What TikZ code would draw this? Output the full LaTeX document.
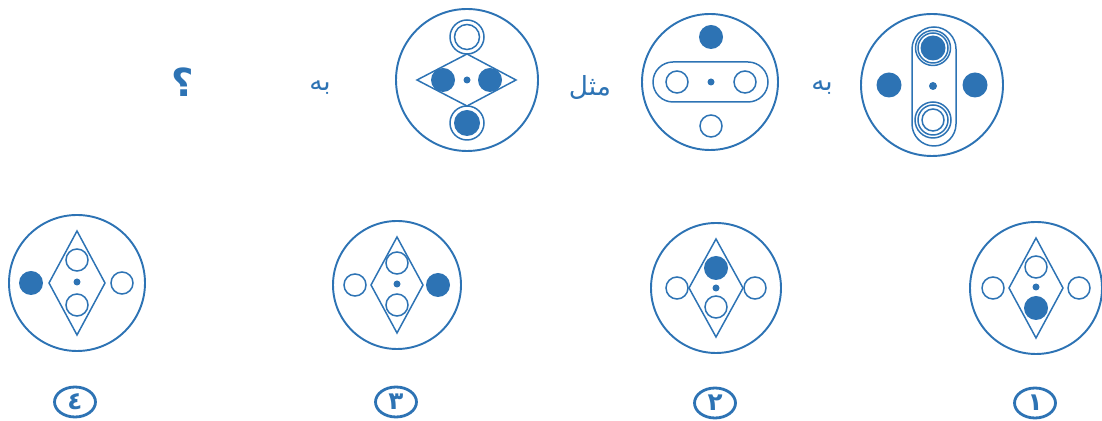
\documentclass[tikz,border=0pt]{standalone}
\usepackage{fontspec}
\usepackage{tikz}
\usetikzlibrary{shapes.geometric}
\TeXXeTstate=1
\newfontfamily\arabicfont[Script=Arabic]{DejaVu Sans}
\definecolor{quizblue}{RGB}{45, 115, 180}
\tikzset{
  frame/.style   = {draw=quizblue, line width=1.1pt},
  edge/.style    = {draw=quizblue, line width=0.85pt},
  hole/.style    = {draw=quizblue, line width=0.85pt, fill=white},
  blob/.style    = {fill=quizblue},
  word/.style    = {text=quizblue, inner sep=0pt, font=\arabicfont\fontsize{15}{17}\selectfont},
  tag/.style     = {ellipse, draw=quizblue, line width=1.6pt, minimum width=0.82cm, minimum height=0.6cm,
                    inner sep=0pt, text=quizblue, font=\arabicfont\bfseries\fontsize{14}{16}\selectfont},
}

\begin{document}
\begin{tikzpicture}[x=0.02cm, y=-0.02cm]
  \useasboundingbox (0,0) rectangle (1102,421);

  % ---- first row: pattern A ----
  \draw[frame] (932,85) circle (71);
  \draw[edge, rounded corners=0.44cm] (912,27) rectangle (956,146);
  \draw[edge] (933,48) circle (17.5) (933,48) circle (15);
  \fill[blob] (933,48) circle (12.5);
  \draw[edge] (933,120) circle (18) (933,120) circle (15) (933,120) circle (11);
  \fill[blob] (933,86) circle (4);
  \fill[blob] (889,85) circle (12.5) (975,85) circle (12.5);
  \node[word] (ba1) at (822,88) {\beginR به\endR};

  % ---- first row: pattern B ----
  \draw[frame] (710,82) circle (68);
  \fill[blob] (711,37) circle (12);
  \draw[edge, rounded corners=0.4cm] (653,62) rectangle (768,102);
  \draw[edge] (677,82) circle (11) (745,82) circle (11);
  \fill[blob] (711,82) circle (3.5);
  \draw[edge] (711,126) circle (11);
  \node[word] (mesl) at (590,88) {\beginR مثل\endR};

  % ---- first row: pattern C ----
  \draw[frame] (467,80) circle (71);
  \draw[edge] (417,80) -- (467,54) -- (516,80) -- (467,106) -- cycle;
  \fill[blob] (443,80) circle (12) (490,80) circle (12);
  \fill[blob] (467,80) circle (3.5);
  \draw[edge] (467,37) circle (17) (467,37) circle (12.5);
  \draw[edge] (467,123) circle (17);
  \fill[blob] (467,123) circle (13);
  \node[word] (ba2) at (320,88) {\beginR به\endR};
  \node[word, font=\arabicfont\bfseries\fontsize{22}{24}\selectfont] (qmark) at (183,82) {؟};

  % ---- second row: choices ----
  % choice 1
  \begin{scope}[shift={(1036,288)}]
    \draw[frame] (0,0) circle (66);
    \draw[edge] (0,-50) -- (27,0) -- (0,50) -- (-27,0) -- cycle;
    \draw[edge] (0,-21) circle (11) (-43,0) circle (11) (43,0) circle (11);
    \fill[blob] (0,-1) circle (3.5) (0,20) circle (12);
  \end{scope}
  \node[tag] (opt1) at (1035,403) {١};

  % choice 2
  \begin{scope}[shift={(716,288)}]
    \draw[frame] (0,0) circle (65);
    \draw[edge] (0,-49) -- (27,0) -- (0,49) -- (-27,0) -- cycle;
    \draw[edge] (0,19) circle (11) (-39,0) circle (11) (39,0) circle (11);
    \fill[blob] (0,0) circle (3.5) (0,-20) circle (12);
  \end{scope}
  \node[tag] (opt2) at (715,403) {٢};

  % choice 3
  \begin{scope}[shift={(397,285)}]
    \draw[frame] (0,0) circle (64);
    \draw[edge] (0,-48) -- (26,0) -- (0,48) -- (-26,0) -- cycle;
    \draw[edge] (0,-22) circle (11) (0,20) circle (11) (-42,0) circle (11);
    \fill[blob] (0,-1) circle (3.5) (41,0) circle (12);
  \end{scope}
  \node[tag] (opt3) at (396,402) {٣};

  % choice 4
  \begin{scope}[shift={(77,283)}]
    \draw[frame] (0,0) circle (68);
    \draw[edge] (0,-52) -- (28,0) -- (0,52) -- (-28,0) -- cycle;
    \draw[edge] (0,-23) circle (11) (0,22) circle (11) (45,0) circle (11);
    \fill[blob] (0,-1) circle (3.5) (-46,0) circle (12);
  \end{scope}
  \node[tag] (opt4) at (75,402) {٤};

\end{tikzpicture}
\end{document}
